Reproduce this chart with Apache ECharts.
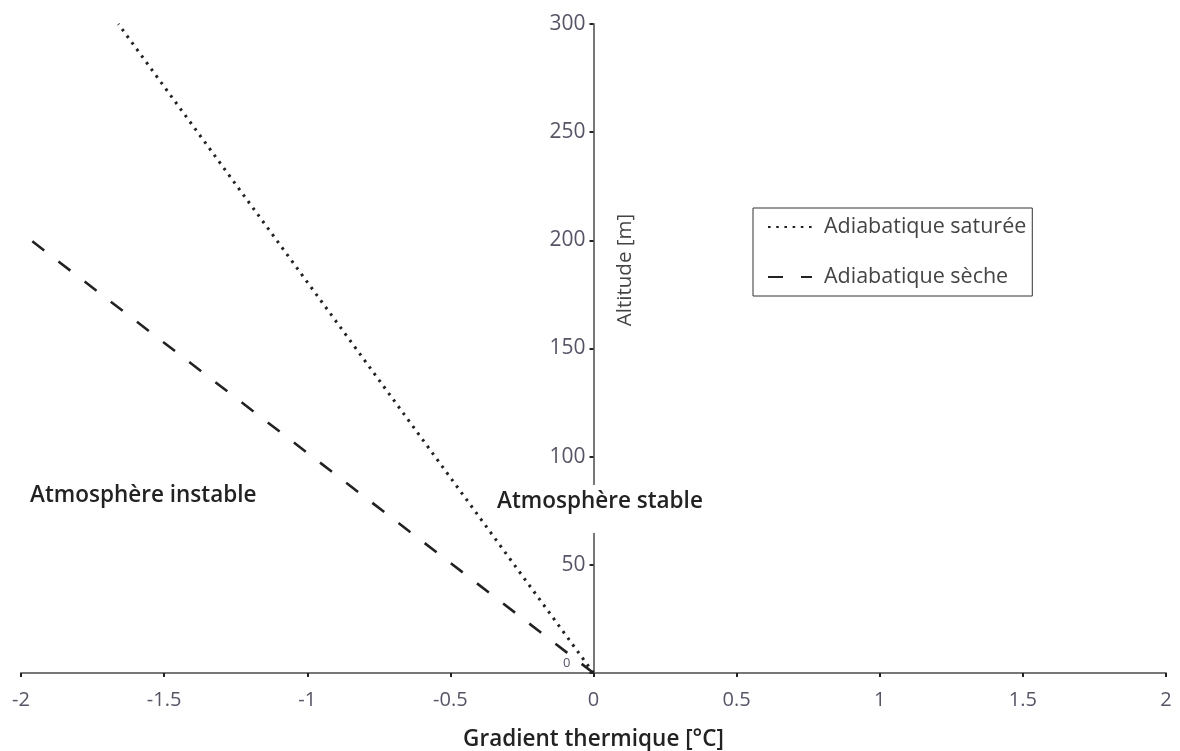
<!DOCTYPE html>
<html>
<head>
<meta charset="utf-8">
<script src="https://cdn.jsdelivr.net/npm/echarts@6/dist/echarts.min.js"></script>
<style>
html,body{margin:0;padding:0;background:#fff;}
#chart{width:1180px;height:751px;}
</style>
</head>
<body>
<div id="chart"></div>
<script>
// Data
var seriesNames = ['Adiabatique saturée', 'Adiabatique sèche'];
var saturee = [[0, 0], [-1.66, 300]];
var seche = [[0, 0], [-1.965, 200]];
var xTicks = [-2, -1.5, -1, -0.5, 0, 0.5, 1, 1.5, 2];
var yTicks = [0, 50, 100, 150, 200, 250, 300];
var xTitle = 'Gradient thermique [°C]';
var yTitle = 'Altitude [m]';
var labelInstable = 'Atmosphère instable';
var labelStable = 'Atmosphère stable';

var FONT = '"Open Sans", "Noto Sans", sans-serif';
var GRID_LEFT = 21;
var chart = echarts.init(document.getElementById('chart'), null, {renderer: 'canvas'});

var option = {
  backgroundColor: '#ffffff',
  animation: false,
  textStyle: {fontFamily: FONT},
  grid: {left: GRID_LEFT, right: 14, top: 24, bottom: 78, containLabel: false, outerBoundsMode: 'none'},
  legend: {
    orient: 'vertical',
    left: 753, top: 208,
    width: 279,
    padding: [8, 6, 8, 14],
    itemWidth: 44, itemHeight: 14,
    itemGap: 28,
    borderColor: '#333', borderWidth: 1,
    itemStyle: {opacity: 0},
    textStyle: {fontFamily: FONT, fontSize: 21.5, color: '#444', padding: [0, 0, 0, 7]},
    data: seriesNames
  },
  xAxis: {
    type: 'value',
    min: xTicks[0], max: xTicks[xTicks.length - 1], interval: 0.5,
    name: xTitle,
    nameLocation: 'middle',
    nameGap: 55,
    nameTextStyle: {fontFamily: FONT, fontSize: 22.5, fontWeight: 600, color: '#222'},
    axisLine: {onZero: true, lineStyle: {color: '#777', width: 2}},
    axisTick: {show: true, length: 4, lineStyle: {color: '#222', width: 2}},
    axisLabel: {fontFamily: FONT, fontSize: 20, color: '#556', margin: 17,
      formatter: function (v) { return String(v); }},
    splitLine: {show: false}
  },
  yAxis: {
    type: 'value',
    min: yTicks[0], max: yTicks[yTicks.length - 1], interval: 50,
    position: 'left',
    offset: 0,
    axisLine: {onZero: false, lineStyle: {color: '#777', width: 2}},
    axisTick: {show: true, length: 4, lineStyle: {color: '#222', width: 2}},
    axisLabel: {
      fontFamily: FONT, fontSize: 21, color: '#556', margin: 8,
      formatter: function (v) { return v === 0 ? '{s|0}' : String(v); },
      rich: {s: {fontSize: 13, color: '#556', padding: [0, 15, 20, 0]}}
    },
    splitLine: {show: false}
  },
  series: [
    {
      name: seriesNames[0], type: 'line', data: saturee, symbol: 'none',
      itemStyle: {color: '#222'},
      lineStyle: {color: '#222', width: 3, type: [2.6, 5.6]},
      z: 3
    },
    {
      name: seriesNames[1], type: 'line', data: seche, symbol: 'none',
      itemStyle: {color: '#222'},
      lineStyle: {color: '#222', width: 2.6, type: [15, 18]},
      z: 3
    }
  ],
  graphic: [
    {
      type: 'text', left: 30, top: 484, z: 100,
      style: {text: labelInstable, font: '600 22.5px ' + FONT, fill: '#222'}
    },
    {
      type: 'text', left: 493, top: 485, z: 100,
      style: {text: labelStable, font: '600 22.5px ' + FONT, fill: '#222',
        backgroundColor: '#fff', padding: [5, 4, 20, 4]}
    },
    {
      type: 'text', x: 625, y: 270, rotation: Math.PI / 2, z: 100,
      style: {text: yTitle, font: '20.5px ' + FONT, fill: '#444',
        align: 'center', verticalAlign: 'middle'}
    }
  ]
};
chart.setOption(option);
// place the y axis at x = 0 of the x axis
var zeroPx = chart.convertToPixel({xAxisIndex: 0}, 0);
chart.setOption({yAxis: {offset: -(zeroPx - GRID_LEFT)}});
</script>
</body>
</html>
